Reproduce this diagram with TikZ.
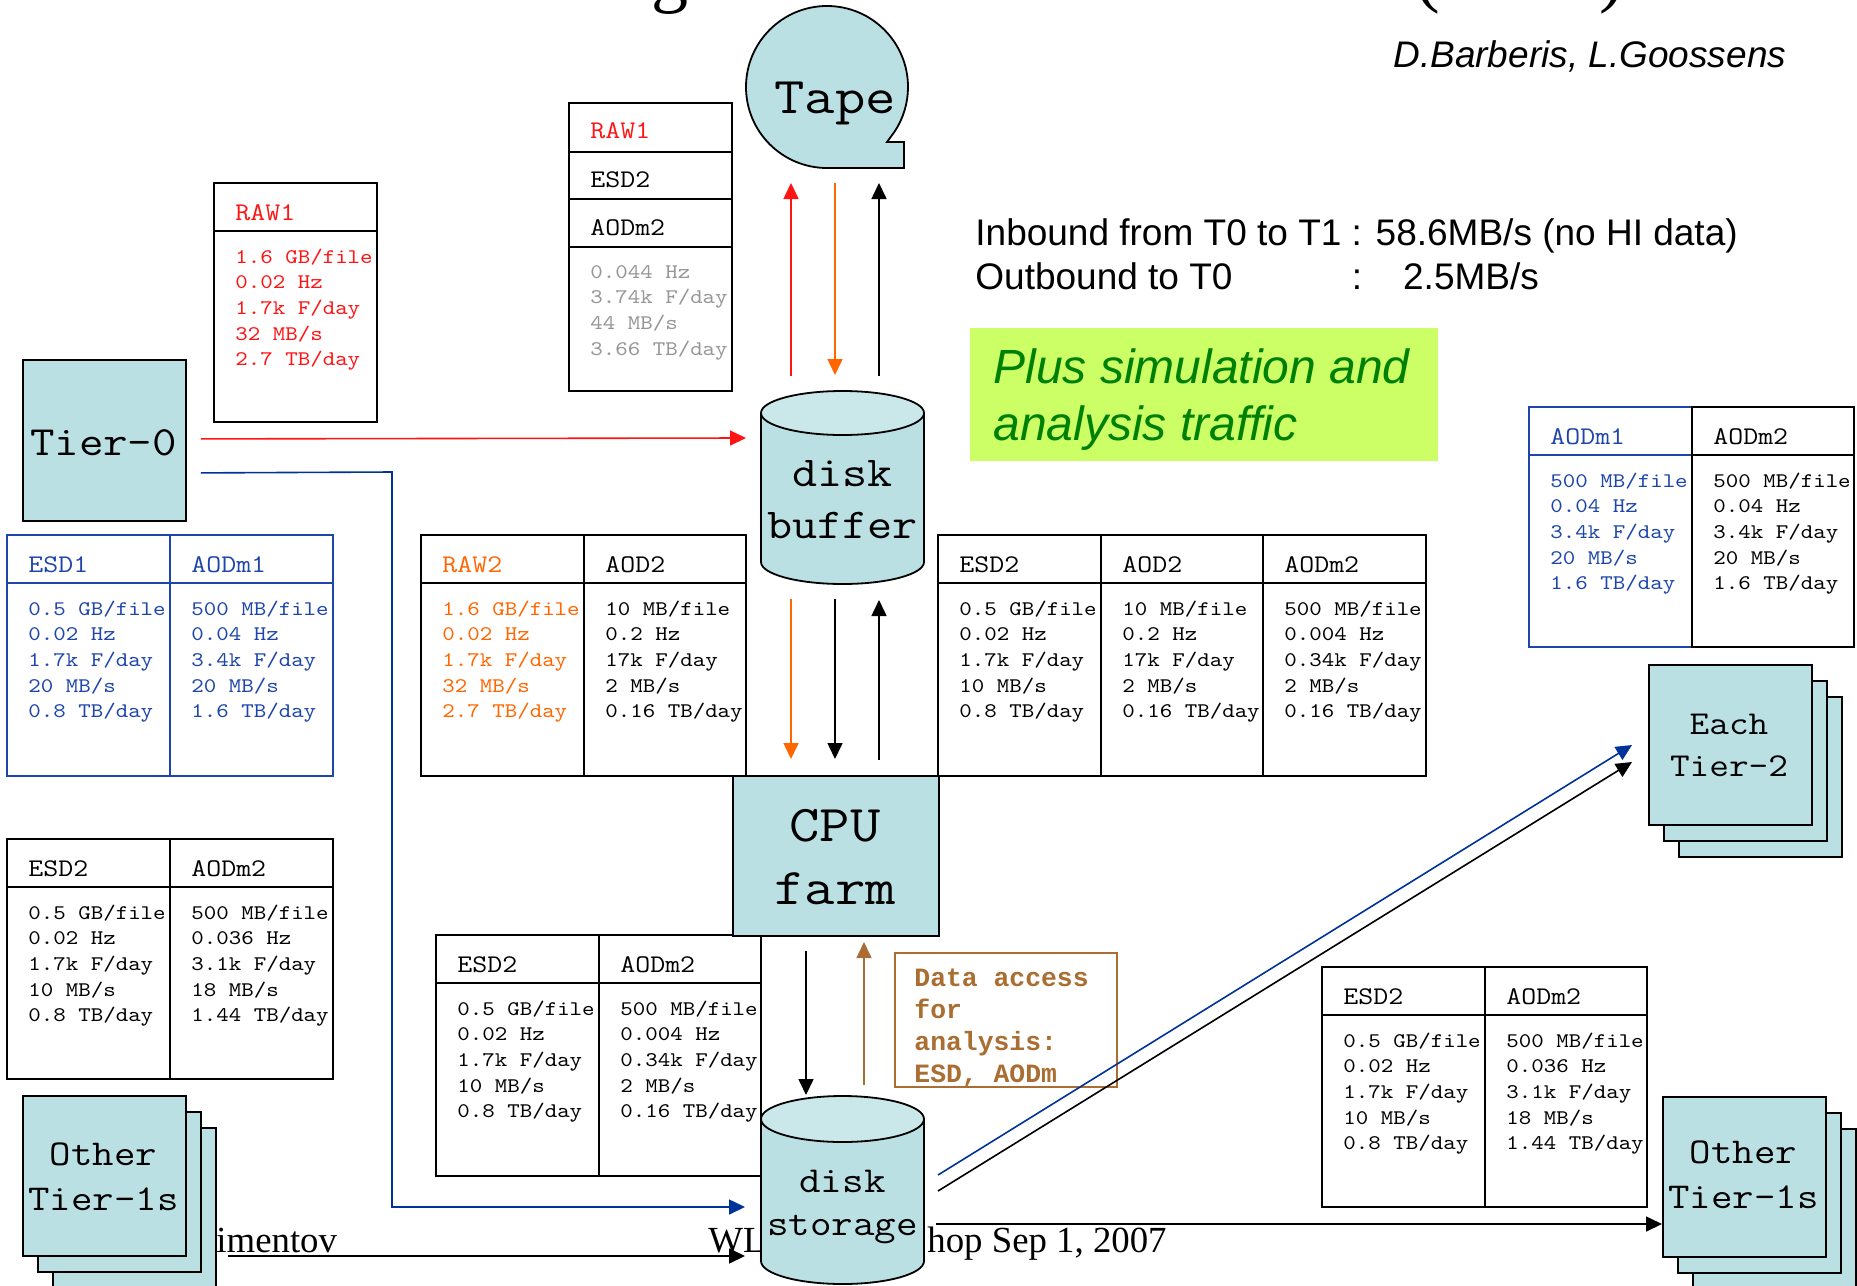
\documentclass[tikz,border=0pt]{standalone}
\usepackage{fontspec}
\usetikzlibrary{arrows.meta}
\newfontfamily\monof{Liberation Mono}
\newfontfamily\arialf{Liberation Sans}
\newfontfamily\seriff{Liberation Serif}
\newcommand\cour{\ttfamily}
\newcommand\wide[1]{\scalebox{1.143}[1]{#1}}
\definecolor{tealfill}{RGB}{187,224,227}
\definecolor{tealtop}{RGB}{202,232,234}
\definecolor{redc}{RGB}{255,20,20}
\definecolor{orangec}{RGB}{255,102,0}
\definecolor{bluec}{RGB}{0,51,153}
\definecolor{textblue}{RGB}{30,70,170}
\definecolor{grayc}{RGB}{150,150,150}
\definecolor{brownc}{RGB}{170,110,50}
\definecolor{limec}{RGB}{204,255,102}
\definecolor{greenc}{RGB}{0,128,0}
\tikzset{
  tline/.style={line width=0.9pt},
  arr/.style={line width=0.8pt,-{Triangle[length=8pt,width=7.5pt]}},
  hdr/.style={anchor=base west,inner sep=0pt,font=\fontsize{12.7}{15}\cour},
  dat/.style={anchor=base west,inner sep=0pt,font=\fontsize{10.4}{12.85}\cour},
  tierbox/.style={draw=black,line width=0.9pt,fill=tealfill,inner sep=0pt,minimum width=81.5pt,minimum height=80pt,anchor=north west},
  lbl/.style={anchor=base,inner sep=0pt},
}
% name, x1, x2, ytop, ybot, border colour, text colour, header, lines
\newcommand\tcol[9]{%
  \draw[tline,#6] (#2,#4) rectangle (#3,#5);
  \draw[tline,#6] (#2,#4+48) -- (#3,#4+48);
  \node[hdr,text=#7] (#1h) at (#2+21,#4+37) {\wide{#8}};
  \node[dat,text=#7] (#1d) at (#2+21,#4+80) {\wide{\begin{tabular}[t]{@{}l@{}}#9\end{tabular}}};
}
% name, x1, ytop of front box
\newcommand\tierstack[3]{%
  \node[tierbox] (#1c) at (#2+30,#3+32) {};
  \node[tierbox] (#1b) at (#2+15,#3+16) {};
  \node[tierbox] (#1) at (#2,#3) {};
}
% cx, top ellipse centre y, bottom ellipse centre y, ry
\newcommand\cylshape[4]{%
  \filldraw[fill=tealfill,draw=black,line width=0.9pt] (#1-81.5,#2) -- (#1-81.5,#3)
     arc[start angle=180,end angle=0,x radius=81.5,y radius=#4] -- (#1+81.5,#2) -- cycle;
  \filldraw[fill=tealtop,draw=black,line width=0.9pt] (#1,#2) ellipse[x radius=81.5,y radius=#4];
}
\begin{document}
\begin{tikzpicture}[x=0.5pt,y=-0.5pt]
\useasboundingbox (0,0) rectangle (1857,1285);
\clip (0,0) rectangle (1857,1285);
\fill[white] (0,0) rectangle (1857,1285);

% title fragments (cut off at top)
\node[lbl,font=\seriff\fontsize{37}{40}\selectfont] (titleg) at (670,-2) {g};
\node[lbl,font=\seriff\fontsize{37}{40}\selectfont] (titlel) at (1428,-2) {(};
\node[lbl,font=\seriff\fontsize{37}{40}\selectfont] (titler) at (1612,-2) {)};

% footer fragments
\node[anchor=base west,inner sep=0pt,font=\seriff\fontsize{18.4}{22}\selectfont] (foota) at (216,1252) {imentov};
\node[anchor=base west,inner sep=0pt,font=\seriff\fontsize{18.4}{22}\selectfont] (footb) at (708,1252) {WL};
\node[anchor=base west,inner sep=0pt,font=\seriff\fontsize{18.4}{22}\selectfont] (footc) at (927,1252) {hop Sep 1, 2007};

% authors and rates
\node[anchor=base west,inner sep=0pt,font=\arialf\itshape\fontsize{18.5}{22}\selectfont] (authors) at (1393,67) {D.Barberis, L.Goossens};
\node[anchor=base west,inner sep=0pt,font=\arialf\fontsize{18.5}{22}\selectfont] (rates) at (975,245)
  {\begin{tabular}[t]{@{}l@{}l@{}}Inbound from T0 to T1\ \ & : 58.6MB/s (no HI data)\\Outbound to T0 & :\ \ \ \ 2.5MB/s\end{tabular}};

% green box
\node[fill=limec,anchor=north west,inner sep=0pt,minimum width=234pt,minimum height=66.5pt] (plusbox) at (970,328) {};
\node[anchor=base west,inner sep=0pt,text=greenc,font=\arialf\itshape\fontsize{24}{28.5}\selectfont] (plustext) at (993,383)
  {\begin{tabular}[t]{@{}l@{}}Plus simulation and\\analysis traffic\end{tabular}};

% Tape
\filldraw[fill=tealfill,draw=black,line width=0.9pt] (827,168) arc[start angle=90,end angle=393.5,radius=81]
   -- (887,142) -- (904,142) -- (904,168) -- cycle;
\node[lbl,font=\fontsize{25.8}{30}\cour] (tape) at (835,113) {\wide{Tape}};

% stacked table near tape
\draw[tline] (569,103) rectangle (732,391);
\draw[tline] (569,152) -- (732,152);
\draw[tline] (569,199) -- (732,199);
\draw[tline] (569,247) -- (732,247);
\node[hdr,text=redc] (sraw) at (590,138) {\wide{RAW1}};
\node[hdr] (sesd) at (590,187) {\wide{ESD2}};
\node[hdr] (saod) at (590,235) {\wide{AODm2}};
\node[dat,text=grayc] (sdat) at (590,278) {\wide{\begin{tabular}[t]{@{}l@{}}0.044 Hz\\3.74k F/day\\44 MB/s\\3.66 TB/day\end{tabular}}};

% tables
\tcol{rawa}{214}{377}{183}{422}{black}{redc}{RAW1}{1.6 GB/file\\0.02 Hz\\1.7k F/day\\32 MB/s\\2.7 TB/day}
\tcol{esda}{7}{170}{535}{776}{textblue}{textblue}{ESD1}{0.5 GB/file\\0.02 Hz\\1.7k F/day\\20 MB/s\\0.8 TB/day}
\tcol{aodma}{170}{333}{535}{776}{textblue}{textblue}{AODm1}{500 MB/file\\0.04 Hz\\3.4k F/day\\20 MB/s\\1.6 TB/day}
\tcol{rawb}{421}{584}{535}{776}{black}{orangec}{RAW2}{1.6 GB/file\\0.02 Hz\\1.7k F/day\\32 MB/s\\2.7 TB/day}
\tcol{aoda}{584}{746}{535}{776}{black}{black}{AOD2}{10 MB/file\\0.2 Hz\\17k F/day\\2 MB/s\\0.16 TB/day}
\tcol{esdb}{938}{1101}{535}{776}{black}{black}{ESD2}{0.5 GB/file\\0.02 Hz\\1.7k F/day\\10 MB/s\\0.8 TB/day}
\tcol{aodb}{1101}{1263}{535}{776}{black}{black}{AOD2}{10 MB/file\\0.2 Hz\\17k F/day\\2 MB/s\\0.16 TB/day}
\tcol{aodmb}{1263}{1426}{535}{776}{black}{black}{AODm2}{500 MB/file\\0.004 Hz\\0.34k F/day\\2 MB/s\\0.16 TB/day}
\tcol{aodmc}{1529}{1692}{407}{647}{textblue}{textblue}{AODm1}{500 MB/file\\0.04 Hz\\3.4k F/day\\20 MB/s\\1.6 TB/day}
\tcol{aodmd}{1692}{1854}{407}{647}{black}{black}{AODm2}{500 MB/file\\0.04 Hz\\3.4k F/day\\20 MB/s\\1.6 TB/day}
\tcol{esdc}{7}{170}{839}{1079}{black}{black}{ESD2}{0.5 GB/file\\0.02 Hz\\1.7k F/day\\10 MB/s\\0.8 TB/day}
\tcol{aodme}{170}{333}{839}{1079}{black}{black}{AODm2}{500 MB/file\\0.036 Hz\\3.1k F/day\\18 MB/s\\1.44 TB/day}
\tcol{esdd}{436}{599}{935}{1176}{black}{black}{ESD2}{0.5 GB/file\\0.02 Hz\\1.7k F/day\\10 MB/s\\0.8 TB/day}
\tcol{aodmf}{599}{761}{935}{1176}{black}{black}{AODm2}{500 MB/file\\0.004 Hz\\0.34k F/day\\2 MB/s\\0.16 TB/day}
\tcol{esde}{1322}{1485}{967}{1207}{black}{black}{ESD2}{0.5 GB/file\\0.02 Hz\\1.7k F/day\\10 MB/s\\0.8 TB/day}
\tcol{aodmg}{1485}{1647}{967}{1207}{black}{black}{AODm2}{500 MB/file\\0.036 Hz\\3.1k F/day\\18 MB/s\\1.44 TB/day}

% Tier-0
\node[tierbox,minimum height=80.5pt] (tier0) at (22,359) {};
\node[lbl,font=\fontsize{20.8}{25}\cour] (tier0t) at (103.5,455) {\wide{Tier-0}};

% disk buffer
\cylshape{842.5}{413}{562}{22}
\node[inner sep=0pt,minimum width=81.5pt,minimum height=96.5pt] (buffer) at (842.5,487.5) {};
\node[lbl,font=\fontsize{21.3}{26}\cour] (buffert) at (842.5,486)
  {\wide{\begin{tabular}[t]{@{}c@{}}disk\\buffer\end{tabular}}};

% CPU farm
\node[draw=black,line width=0.9pt,fill=tealfill,anchor=north west,inner sep=0pt,minimum width=103pt,minimum height=80pt] (cpu) at (732,775) {};
\node[lbl,font=\fontsize{25.8}{31.5}\cour] (cput) at (835,841)
  {\wide{\begin{tabular}[t]{@{}c@{}}CPU\\farm\end{tabular}}};

% data access box
\node[draw=brownc,line width=0.8pt,anchor=north west,inner sep=0pt,minimum width=111pt,minimum height=67pt] (dabox) at (894,952) {};
\node[anchor=base west,inner sep=0pt,text=brownc,font=\monof\bfseries\fontsize{13.2}{16}\selectfont] (datext) at (914,986)
  {\begin{tabular}[t]{@{}l@{}}Data access\\for\\analysis:\\ESD, AODm\end{tabular}};

% disk storage
\cylshape{842.5}{1119}{1261}{23}
\node[inner sep=0pt,minimum width=81.5pt,minimum height=94pt] (storage) at (842.5,1190) {};
\node[lbl,font=\fontsize{18.3}{21.5}\cour] (storaget) at (842.5,1192)
  {\wide{\begin{tabular}[t]{@{}c@{}}disk\\storage\end{tabular}}};

% tier stacks
\tierstack{tonel}{22}{1095}
\node[lbl,font=\fontsize{18.2}{22.5}\cour] (tonelt) at (103.5,1165)
  {\wide{\begin{tabular}[t]{@{}c@{}}Other\\Tier-1s\end{tabular}}};
\tierstack{toner}{1662}{1096}
\node[lbl,font=\fontsize{18.2}{22.5}\cour] (tonert) at (1743.5,1163)
  {\wide{\begin{tabular}[t]{@{}c@{}}Other\\Tier-1s\end{tabular}}};
\tierstack{ttwo}{1648}{664}
\node[lbl,font=\fontsize{16.7}{21}\cour] (ttwot) at (1729,734)
  {\wide{\begin{tabular}[t]{@{}c@{}}Each\\Tier-2\end{tabular}}};

% arrow end points
\coordinate (tpa1) at (791,376); \coordinate (tpa2) at (791,183);
\coordinate (tpb1) at (835,183); \coordinate (tpb2) at (835,375);
\coordinate (tpc1) at (879,376); \coordinate (tpc2) at (879,183);
\coordinate (bca1) at (791,599); \coordinate (bca2) at (791,759);
\coordinate (bcb1) at (835,599); \coordinate (bcb2) at (835,759);
\coordinate (bcc1) at (879,760); \coordinate (bcc2) at (879,600);
\coordinate (csa1) at (806,951); \coordinate (csa2) at (806,1095);
\coordinate (csb1) at (864,1085); \coordinate (csb2) at (864,942);
\coordinate (rin) at (746,438);
\coordinate (bcorner1) at (392,472); \coordinate (bcorner2) at (392,1207);
\coordinate (bin) at (745,1207);
\coordinate (lin) at (745,1256);
\coordinate (lstart) at (228,1256);
\coordinate (rstart) at (936,1224);
\coordinate (rout) at (1662,1224);
\coordinate (dga1) at (938,1175); \coordinate (dga2) at (1632,745);
\coordinate (dgb1) at (938,1191); \coordinate (dgb2) at (1632,762);

% arrows tape <-> buffer
\draw[arr,redc] (tpa1) -- (tpa2);
\draw[arr,orangec] (tpb1) -- (tpb2);
\draw[arr,black] (tpc1) -- (tpc2);
% buffer <-> cpu
\draw[arr,orangec] (bca1) -- (bca2);
\draw[arr,black] (bcb1) -- (bcb2);
\draw[arr,black] (bcc1) -- (bcc2);
% cpu <-> storage
\draw[arr,black] (csa1) -- (csa2);
\draw[arr,brownc] (csb1) -- (csb2);
% tier-0
\draw[arr,redc] ([xshift=7pt,yshift=0.75pt]tier0.east) -- (rin);
\draw[arr,bluec] ([xshift=7pt,yshift=-16.25pt]tier0.east) -- (bcorner1) -- (bcorner2) -- (bin);
% other tier-1s
\draw[arr,black] (lstart) -- (lin);
\draw[arr,black] (rstart) -- (rout);
% tier-2
\draw[arr,bluec] (dga1) -- (dga2);
\draw[arr,black] (dgb1) -- (dgb2);
\end{tikzpicture}
\end{document}
